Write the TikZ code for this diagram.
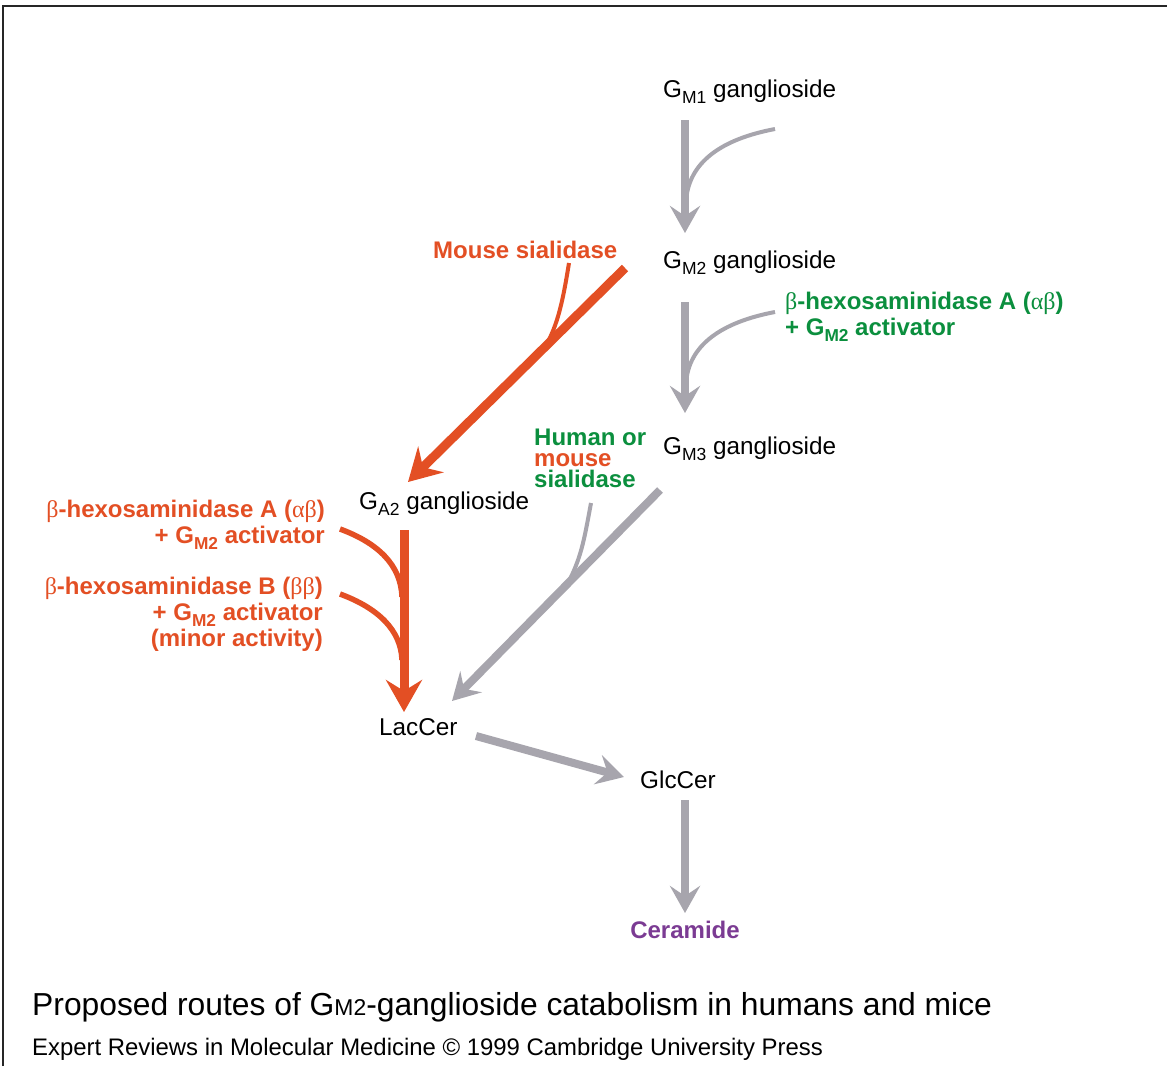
\documentclass[tikz,border=0pt]{standalone}
\usepackage{fontspec}
\setmainfont{Liberation Sans}
\newfontfamily\grk{Liberation Serif}
\usetikzlibrary{arrows.meta}
\definecolor{cgray}{HTML}{A7A5AD}
\definecolor{corange}{HTML}{E34F24}
\definecolor{cgreen}{HTML}{0B8F3E}
\definecolor{cpurple}{HTML}{7B3B93}
\newcommand\lowsub[1]{\raisebox{-0.26em}{\scalebox{0.72}{#1}}}
\newcommand\gk[1]{{\grk\mdseries #1}}
\begin{document}
\begin{tikzpicture}[x=1pt,y=-1pt,
  lbl/.style={font=\fontsize{24.3}{28}\selectfont, inner sep=0pt, anchor=base west},
  enz/.style={font=\fontsize{24}{27}\selectfont\bfseries, inner sep=0pt, text height=15pt, text depth=2pt},
  garrow/.style={draw=cgray, line width=8pt, -{Stealth[length=27pt,width=30pt,inset=10pt]}},
  oarrow/.style={draw=corange, line width=9pt, -{Stealth[length=32pt,width=36pt,inset=11pt]}},
  gthin/.style={draw=cgray, line width=4pt},
  othin/.style={draw=corange, line width=4pt},
  othick/.style={draw=corange, line width=5.5pt}]
\useasboundingbox (0,0) rectangle (1167,1066);
\fill[white] (0,0) rectangle (1167,1066);
% frame
\draw[line width=2.5pt, black!85] (3,1066) -- (3,6) -- (1167,6);

% compound labels
\node[lbl] (gm1) at (663,97) {G\lowsub{M1} ganglioside};
\node[lbl] (gm2) at (663,268) {G\lowsub{M2} ganglioside};
\node[lbl] (gm3) at (663,454) {G\lowsub{M3} ganglioside};
\node[lbl] (ga2) at (359,509) {G\lowsub{A2} ganglioside};
\node[lbl] (lac) at (379,735) {LacCer};
\node[lbl] (glc) at (640,788) {GlcCer};
\node[enz, anchor=base, text=cpurple] (cer) at (685,938) {Ceramide};

% enzyme labels
\node[enz, anchor=base west, text=corange] (msia) at (433,258) {Mouse sialidase};
\node[enz, anchor=base west, text=cgreen] (hexa1) at (785,309) {\gk{β}-hexosaminidase A (\gk{αβ})};
\node[enz, anchor=base west, text=cgreen] (hexa2) at (785,335) {+ G\lowsub{M2} activator};
\node[enz, anchor=base west, text=cgreen] (hm1) at (534,445) {Human or};
\node[enz, anchor=base west, text=corange] (hm2) at (534,466) {mouse};
\node[enz, anchor=base west, text=cgreen] (hm3) at (534,487) {sialidase};
\node[enz, anchor=base east, text=corange] (la1) at (325,517) {\gk{β}-hexosaminidase A (\gk{αβ})};
\node[enz, anchor=base east, text=corange] (la2) at (325,543) {+ G\lowsub{M2} activator};
\node[enz, anchor=base east, text=corange] (lb1) at (323,594) {\gk{β}-hexosaminidase B (\gk{ββ})};
\node[enz, anchor=base east, text=corange] (lb2) at (323,620) {+ G\lowsub{M2} activator};
\node[enz, anchor=base east, text=corange] (lb3) at (323,646) {(minor activity)};

% caption
\node[inner sep=0pt, anchor=base west, font=\fontsize{31.8}{36}\selectfont] (cap) at (32,1015)
  {Proposed routes of G\scalebox{0.72}{M2}-ganglioside catabolism in humans and mice};
\node[inner sep=0pt, anchor=base west, font=\fontsize{23.9}{28}\selectfont] (src) at (32,1055)
  {Expert Reviews in Molecular Medicine © 1999 Cambridge University Press};

% connector end points
\coordinate (a1s) at (685,120); \coordinate (a1e) at (685,233);
\coordinate (a1j) at (686,202); \coordinate (a1c) at (775,129);
\coordinate (a2s) at (685,302); \coordinate (a2e) at (685,413);
\coordinate (a2j) at (686,384); \coordinate (a2c) at (775,312);
\coordinate (a3s) at (625,268); \coordinate (a3e) at (408,482);
\coordinate (a3j) at (545,347); \coordinate (a3c) at (569,263);
\coordinate (a4s) at (660,490); \coordinate (a4e) at (452,701);
\coordinate (a4j) at (570,579); \coordinate (a4c) at (591,503);
\coordinate (a5s) at (404,530); \coordinate (a5e) at (404,712);
\coordinate (a5ja) at (402,597); \coordinate (a5ca) at (340,529);
\coordinate (a5jb) at (402,660); \coordinate (a5cb) at (340,594);
\coordinate (a6s) at (476,736); \coordinate (a6e) at (624,777);
\coordinate (a7s) at (685,800); \coordinate (a7e) at (685,913);

% GM1 -> GM2
\draw[gthin] (a1c) .. controls (722,139) and (688,162) .. (a1j);
\draw[garrow] (a1s) -- (a1e);
% GM2 -> GM3
\draw[gthin] (a2c) .. controls (722,322) and (688,345) .. (a2j);
\draw[garrow] (a2s) -- (a2e);
% GM2 -> GA2 (mouse sialidase)
\draw[othin] (a3c) .. controls (563,300) and (558,325) .. (a3j);
\draw[oarrow] (a3s) -- (a3e);
% GM3 -> LacCer
\draw[gthin] (a4c) .. controls (585,535) and (582,555) .. (a4j);
\draw[garrow] (a4s) -- (a4e);
% GA2 -> LacCer
\draw[othick] (a5ca) .. controls (378,543) and (401,565) .. (a5ja);
\draw[othick] (a5cb) .. controls (378,608) and (401,630) .. (a5jb);
\draw[oarrow] (a5s) -- (a5e);
% LacCer -> GlcCer
\draw[garrow] (a6s) -- (a6e);
% GlcCer -> Ceramide
\draw[garrow] (a7s) -- (a7e);
\end{tikzpicture}
\end{document}
